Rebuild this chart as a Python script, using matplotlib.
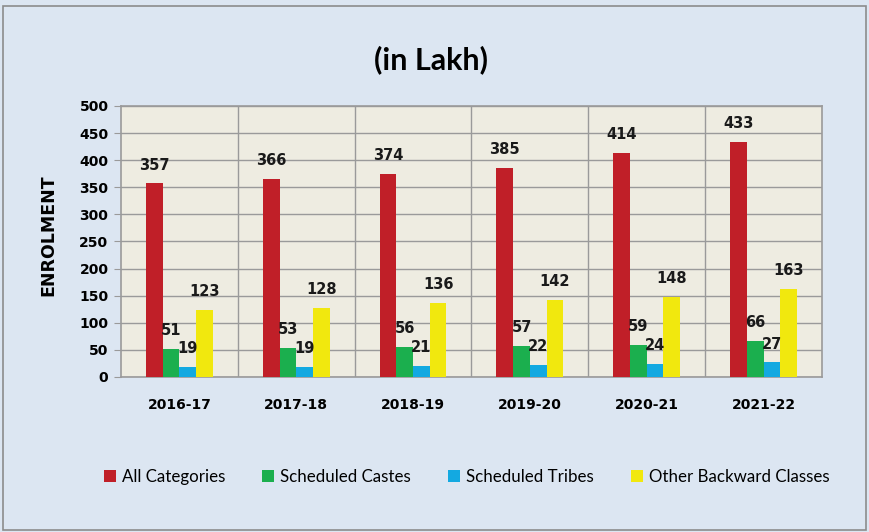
import numpy as np
import matplotlib.pyplot as plt
from matplotlib.patches import Rectangle

years = ["2016-17", "2017-18", "2018-19", "2019-20", "2020-21", "2021-22"]
all_categories = [357, 366, 374, 385, 414, 433]
scheduled_castes = [51, 53, 56, 57, 59, 66]
scheduled_tribes = [19, 19, 21, 22, 24, 27]
other_backward = [123, 128, 136, 142, 148, 163]

series = [
    ("All Categories", all_categories, "#C01F28"),
    ("Scheduled Castes", scheduled_castes, "#1BAF4E"),
    ("Scheduled Tribes", scheduled_tribes, "#13A9E1"),
    ("Other Backward Classes", other_backward, "#F1E80E"),
]

bg = "#DCE6F2"
fig = plt.figure(figsize=(8.69, 5.32), dpi=100, facecolor=bg)
fig.patches.append(Rectangle((0.004, 0.004), 0.992, 0.985, transform=fig.transFigure,
                             fill=False, edgecolor="#8C8C8C", linewidth=1.2))
ax = fig.add_axes([0.1392, 0.2914, 0.8067, 0.5094])
ax.set_facecolor("#EEECE1")

x = np.arange(len(years))
w = 0.143
for i, (name, vals, col) in enumerate(series):
    pos = x + (i - 1.5) * w
    ax.bar(pos, vals, width=w, color=col, label=name, zorder=3)
    for px, v in zip(pos, vals):
        ax.text(px, v + 20, str(v), ha="center", va="bottom", fontsize=10.5,
                fontweight="bold", family="DejaVu Sans", color="#1a1a1a", zorder=4)

ax.set_xlim(-0.5, len(years) - 0.5)
ax.set_ylim(0, 500)
ax.set_yticks(np.arange(0, 501, 50))
ax.set_xticks(x)
ax.set_xticklabels(years)
ax.set_xticks(np.arange(0.5, len(years) - 0.5), minor=True)
ax.grid(axis="y", which="major", color="#9A9A9A", linewidth=1, zorder=1)
ax.grid(axis="x", which="minor", color="#9A9A9A", linewidth=1, zorder=1)
ax.tick_params(axis="x", which="both", length=0, pad=15)
ax.tick_params(axis="y", length=5, color="#9A9A9A", pad=4)
for lab in ax.get_xticklabels() + ax.get_yticklabels():
    lab.set_fontweight("bold")
    lab.set_family("DejaVu Sans")
    lab.set_fontsize(10)
for s in ax.spines.values():
    s.set_color("#9A9A9A")
    s.set_linewidth(1.2)

ax.set_ylabel("ENROLMENT", fontsize=12.5, fontweight="bold", family="DejaVu Sans")
ax.yaxis.set_label_coords(-0.091, 0.525)

fig.text(0.496, 0.887, "(in Lakh)", ha="center", va="center", fontsize=22,
         fontweight="bold", family="Lato")

fig.legend(loc="center", bbox_to_anchor=(0.537, 0.103), ncol=4, frameon=False,
           handlelength=0.7, handleheight=0.7, handletextpad=0.35, columnspacing=2.2,
           prop={"family": "Lato", "size": 12.2})

fig.savefig("out.png", dpi=100, facecolor=bg)
